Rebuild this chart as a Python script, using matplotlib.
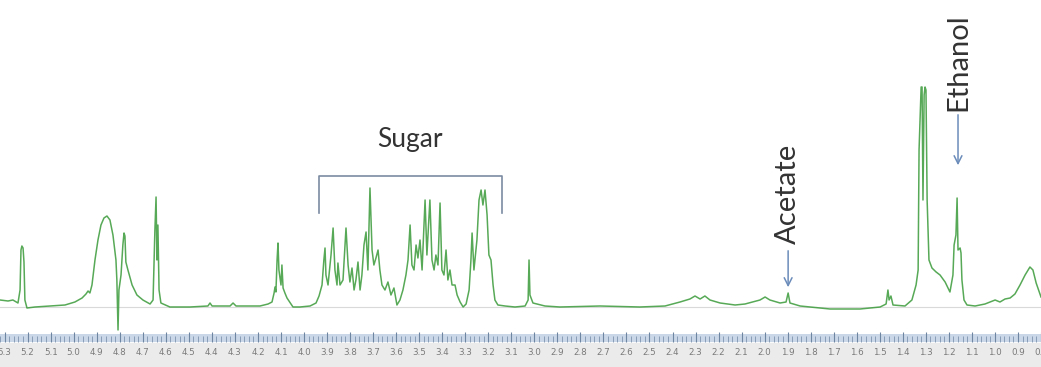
import numpy as np
import matplotlib
matplotlib.use('Agg')
import matplotlib.pyplot as plt
from matplotlib.patches import Rectangle

# chemical shift (ppm) and intensity
ppm = [5.317, 5.282, 5.261, 5.239, 5.230, 5.226, 5.222, 5.217, 5.213, 5.209,
       5.200, 5.165, 5.100, 5.035, 4.992, 4.961, 4.944, 4.935, 4.927, 4.918,
       4.905, 4.892, 4.879, 4.866, 4.853, 4.840, 4.827, 4.814, 4.810, 4.805,
       4.801, 4.792, 4.784, 4.779, 4.775, 4.771, 4.762, 4.744, 4.723, 4.697,
       4.666, 4.653, 4.645, 4.640, 4.636, 4.632, 4.627, 4.619, 4.580, 4.493,
       4.415, 4.406, 4.397, 4.319, 4.306, 4.293, 4.189, 4.154, 4.137, 4.128,
       4.124, 4.120, 4.115, 4.111, 4.107, 4.098, 4.094, 4.089, 4.081, 4.072,
       4.046, 4.016, 3.972, 3.946, 3.933, 3.920, 3.912, 3.907, 3.903, 3.894,
       3.881, 3.872, 3.864, 3.855, 3.851, 3.842, 3.829, 3.816, 3.807, 3.799,
       3.790, 3.781, 3.773, 3.764, 3.755, 3.747, 3.738, 3.729, 3.721, 3.712,
       3.703, 3.695, 3.686, 3.677, 3.669, 3.660, 3.647, 3.634, 3.621, 3.608,
       3.595, 3.582, 3.569, 3.556, 3.547, 3.538, 3.530, 3.521, 3.512, 3.504,
       3.495, 3.486, 3.473, 3.465, 3.452, 3.443, 3.434, 3.426, 3.417, 3.408,
       3.400, 3.391, 3.382, 3.374, 3.365, 3.356, 3.343, 3.334, 3.321, 3.308,
       3.295, 3.282, 3.274, 3.269, 3.261, 3.248, 3.239, 3.230, 3.222, 3.213,
       3.204, 3.196, 3.187, 3.178, 3.170, 3.157, 3.126, 3.083, 3.039, 3.026,
       3.022, 3.018, 3.005, 2.953, 2.888, 2.714, 2.541, 2.432, 2.367, 2.324,
       2.302, 2.280, 2.259, 2.237, 2.193, 2.128, 2.085, 2.020, 1.998, 1.977,
       1.933, 1.907, 1.898, 1.890, 1.846, 1.716, 1.586, 1.499, 1.473, 1.465,
       1.460, 1.452, 1.443, 1.391, 1.361, 1.343, 1.334, 1.330, 1.321, 1.317,
       1.313, 1.308, 1.304, 1.300, 1.295, 1.287, 1.274, 1.256, 1.239, 1.217,
       1.196, 1.183, 1.178, 1.174, 1.170, 1.165, 1.161, 1.152, 1.148, 1.144,
       1.135, 1.122, 1.087, 1.044, 1.022, 1.000, 0.979, 0.957, 0.935, 0.914,
       0.892, 0.870, 0.849, 0.836, 0.822, 0.801]

intensity = [6, 5, 6, 3, 16, 56, 60, 58, 44, 6,
             -2, -1, 0, 1, 4, 8, 12, 15, 13, 21,
             46, 66, 81, 88, 90, 86, 71, 46, 26, -24,
             16, 31, 61, 73, 70, 44, 36, 21, 11, 6,
             2, 6, 76, 109, 46, 81, 16, 3, -1, -1,
             0, 3, 0, 0, 3, 0, 0, 2, 4, 13,
             19, 14, 46, 63, 36, 21, 41, 18, 13, 8,
             -1, -1, 0, 3, 10, 21, 46, 58, 31, 21,
             51, 78, 36, 21, 43, 21, 26, 78, 41, 24,
             38, 16, 26, 44, 16, 31, 61, 74, 36, 118,
             56, 41, 48, 56, 36, 21, 16, 24, 11, 18,
             1, 6, 16, 31, 46, 81, 41, 36, 61, 48,
             66, 36, 106, 51, 106, 46, 36, 51, 41, 103,
             36, 31, 56, 26, 36, 21, 21, 11, 4, -1,
             2, 16, 46, 73, 36, 66, 106, 116, 101, 116,
             91, 51, 46, 21, 6, 1, 0, -1, 0, 6,
             46, 11, 3, 0, -1, 0, -1, 0, 4, 7,
             10, 7, 10, 6, 3, 1, 2, 6, 9, 6,
             3, 4, 13, 3, 0, -3, -3, -1, 2, 16,
             6, 10, 1, 0, 6, 21, 36, 156, 219, 219,
             106, 211, 219, 216, 106, 46, 38, 34, 31, 24,
             14, 31, 61, 66, 71, 108, 56, 58, 53, 26,
             6, 1, 0, 2, 4, 6, 4, 7, 8, 12,
             21, 31, 39, 36, 23, 9]

# annotations
sugar_range = (3.933, 3.139)
sugar_label = 'Sugar'
arrow_labels = ['Acetate', 'Ethanol']
arrow_ppm = [1.898, 1.161]
arrow_tip = [16, 138]
arrow_tail = [58, 194]
label_height = [112, 244]

tick_labels = np.round(np.arange(5.3, 0.75, -0.1), 1)

plt.rcParams['font.family'] = ['Lato', 'DejaVu Sans']

fig = plt.figure(figsize=(10.41, 3.67), dpi=100)
fig.patches.append(Rectangle((0, 0), 1, 24 / 367, transform=fig.transFigure,
                             color='#ebebeb', zorder=-5))

ax = fig.add_axes([0, 0, 1, 1])
ax.set_facecolor('none')
ax.axhline(-1, color='#d9d9d9', lw=0.8, zorder=1)
ax.plot(ppm, intensity, color='#3a9a3a', lw=1.1, alpha=0.85, zorder=2)
ax.set_xlim(5.317, 0.801)
ax.set_ylim(-61, 306)
ax.axis('off')

# sugar bracket
ax.plot([sugar_range[0], sugar_range[0], sugar_range[1], sugar_range[1]],
        [93, 130, 130, 93], color='#7b8ba3', lw=1.2)
ax.text(3.538, 166, sugar_label, fontsize=19, color='#333333',
        ha='center', va='center')

for lab, x, tip, tail, h in zip(arrow_labels, arrow_ppm, arrow_tip, arrow_tail, label_height):
    ax.annotate('', xy=(x, tip), xytext=(x, tail),
                arrowprops=dict(arrowstyle='->', color='#6b8cba', lw=1.1,
                                mutation_scale=14))
    ax.text(x, h, lab, fontsize=21, color='#333333', rotation=90,
            ha='center', va='center')

# ruler
ax2 = fig.add_axes([0, 25 / 367, 1, 8 / 367])
ax2.set_facecolor('#c9d7e8')
ax2.set_xlim(5.317, 0.801)
ax2.set_yticks([])
ax2.set_xticks(tick_labels)
ax2.set_xticklabels(['%.1f' % t for t in tick_labels], family='DejaVu Sans')
ax2.set_xticks(np.arange(5.32, 0.79, -0.02), minor=True)
ax2.tick_params(axis='x', which='major', direction='in', length=7, width=0.8,
                color='#6f86a3', labelsize=6.3, labelcolor='#7a7a7a', pad=4)
ax2.tick_params(axis='x', which='minor', direction='in', length=4, width=0.6,
                color='#7f94ae')
for s in ax2.spines.values():
    s.set_visible(False)

plt.savefig('out.png', dpi=100)
